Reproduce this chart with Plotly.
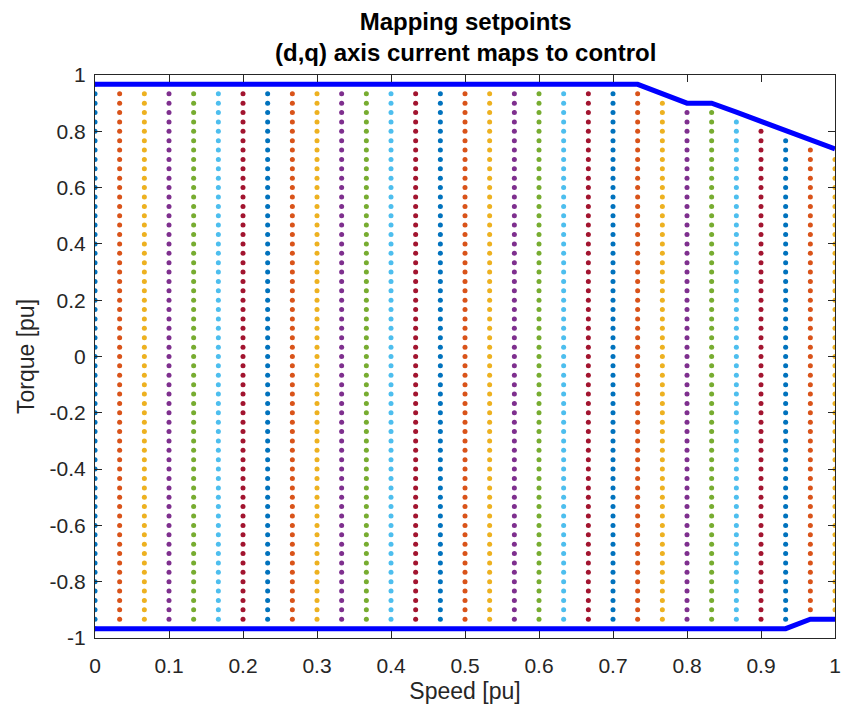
import plotly.graph_objects as go

# ---- data ----
speed = [0.0, 0.0333, 0.0667, 0.1, 0.1333, 0.1667, 0.2, 0.2333, 0.2667, 0.3,
         0.3333, 0.3667, 0.4, 0.4333, 0.4667, 0.5, 0.5333, 0.5667, 0.6, 0.6333,
         0.6667, 0.7, 0.7333, 0.7667, 0.8, 0.8333, 0.8667, 0.9, 0.9333, 0.9667, 1.0]

torque_levels = [-0.9667, -0.9333, -0.9, -0.8667, -0.8333, -0.8, -0.7667, -0.7333,
                 -0.7, -0.6667, -0.6333, -0.6, -0.5667, -0.5333, -0.5, -0.4667,
                 -0.4333, -0.4, -0.3667, -0.3333, -0.3, -0.2667, -0.2333, -0.2,
                 -0.1667, -0.1333, -0.1, -0.0667, -0.0333, 0.0, 0.0333, 0.0667,
                 0.1, 0.1333, 0.1667, 0.2, 0.2333, 0.2667, 0.3, 0.3333, 0.3667,
                 0.4, 0.4333, 0.4667, 0.5, 0.5333, 0.5667, 0.6, 0.6333, 0.6667,
                 0.7, 0.7333, 0.7667, 0.8, 0.8333, 0.8667, 0.9, 0.9333, 0.9667]

# highest / lowest setpoint torque in each speed column
col_top = [0.9667] + [0.9333] * 22 + [0.9, 0.8667, 0.8667, 0.8333, 0.8, 0.7667, 0.7333, 0.7]
col_bot = [-0.9667] + [-0.9333] * 28 + [-0.9, -0.9]

# torque limit envelopes
env_top_speed = [0.0, 0.7333, 0.8, 0.8333, 0.8667, 0.9, 0.9333, 0.9667, 1.0]
env_top_torque = [0.9667, 0.9667, 0.9, 0.9, 0.868, 0.836, 0.803, 0.77, 0.737]
env_bot_speed = [0.0, 0.9333, 0.9667, 1.0]
env_bot_torque = [-0.9667, -0.9667, -0.9333, -0.9333]

x_ticks = [0, 0.1, 0.2, 0.3, 0.4, 0.5, 0.6, 0.7, 0.8, 0.9, 1]
x_ticklabels = ["0", "0.1", "0.2", "0.3", "0.4", "0.5", "0.6", "0.7", "0.8", "0.9", "1"]
y_ticks = [-1, -0.8, -0.6, -0.4, -0.2, 0, 0.2, 0.4, 0.6, 0.8, 1]
y_ticklabels = ["-1", "-0.8", "-0.6", "-0.4", "-0.2", "0", "0.2", "0.4", "0.6", "0.8", "1"]

title_text = "<b>Mapping setpoints</b><br><b>(d,q) axis current maps to control</b>"

colors = ["#0072BD", "#D95319", "#EDB120", "#7E2F8E", "#77AC30", "#4DBEEE", "#A2142F"]

fig = go.Figure()
for i, w in enumerate(speed):
    ys = [t for t in torque_levels if col_bot[i] - 1e-6 <= t <= col_top[i] + 1e-6]
    fig.add_trace(go.Scatter(
        x=[w] * len(ys), y=ys, mode="markers",
        marker=dict(size=5, color=colors[i % len(colors)]),
        showlegend=False, hoverinfo="skip"))

for sx, sy in [(env_top_speed, env_top_torque), (env_bot_speed, env_bot_torque)]:
    fig.add_trace(go.Scatter(x=sx, y=sy, mode="lines",
                             line=dict(color="#0000FF", width=5),
                             showlegend=False, hoverinfo="skip"))

font_family = "Liberation Sans, Arial, sans-serif"
axis_common = dict(
    showgrid=False, zeroline=False, showline=True, linecolor="#262626", linewidth=1,
    mirror="ticks", ticks="inside", ticklen=7, tickcolor="#262626", tickwidth=1,
    ticklabeloverflow="allow", automargin=False,
    tickfont=dict(family=font_family, size=21, color="#262626"),
)
fig.update_layout(
    width=841, height=712,
    margin=dict(l=95, r=6, t=75, b=74),
    paper_bgcolor="white", plot_bgcolor="white",
    xaxis=dict(range=[0, 1], tickvals=x_ticks, ticktext=x_ticklabels,
               ticklabelstandoff=9,
               title=dict(text="Speed [pu]", standoff=6,
                          font=dict(family=font_family, size=23, color="#262626")),
               **axis_common),
    yaxis=dict(range=[-1, 1], tickvals=y_ticks, ticktext=y_ticklabels,
               ticklabelstandoff=4,
               title=dict(text="Torque [pu]", standoff=8,
                          font=dict(family=font_family, size=23, color="#262626")),
               **axis_common),
    annotations=[dict(text=title_text, x=0.5, xref="paper", xanchor="center",
                      y=(638 - 6) / 563, yref="paper", yanchor="top",
                      showarrow=False,
                      font=dict(family=font_family, size=24, color="black"))],
)
fig.write_html("out.html")
